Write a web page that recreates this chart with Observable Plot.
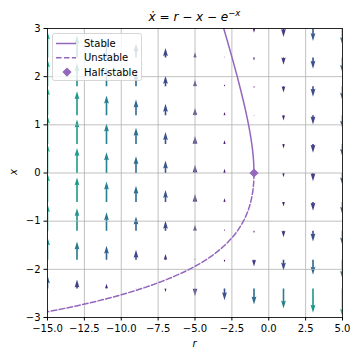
<!DOCTYPE html>
<html><head><meta charset="utf-8">
<script src="https://cdn.jsdelivr.net/npm/d3@7"></script>
<script src="https://cdn.jsdelivr.net/npm/@observablehq/plot@0.6"></script>
<style>body{margin:0;background:#fff;} svg{display:block;}</style>
</head><body><div id="chart"></div>
<script>
// ---- data ----
const rGrid = [-15, -13, -11, -9, -7, -5, -3, -1, 1, 3, 5];
const xGrid = [-3, -2.4, -1.8, -1.2, -0.6, 0, 0.6, 1.2, 1.8, 2.4, 3];
// flow speed xdot at each grid point, one row per r column (rows follow xGrid)
const xdotRm15 = [-2.09, 6.38, 10.75, 12.88, 13.78, 14.00, 13.85, 13.50, 13.03, 12.51, 11.95];
const xdotRm13 = [-4.09, 4.38, 8.75, 10.88, 11.78, 12.00, 11.85, 11.50, 11.03, 10.51, 9.95];
const xdotRm11 = [-6.09, 2.38, 6.75, 8.88, 9.78, 10.00, 9.85, 9.50, 9.03, 8.51, 7.95];
const xdotRm9  = [-8.09, 0.38, 4.75, 6.88, 7.78, 8.00, 7.85, 7.50, 7.03, 6.51, 5.95];
const xdotRm7  = [-10.09, -1.62, 2.75, 4.88, 5.78, 6.00, 5.85, 5.50, 5.03, 4.51, 3.95];
const xdotRm5  = [-12.09, -3.62, 0.75, 2.88, 3.78, 4.00, 3.85, 3.50, 3.03, 2.51, 1.95];
const xdotRm3  = [-14.09, -5.62, -1.25, 0.88, 1.78, 2.00, 1.85, 1.50, 1.03, 0.51, -0.05];
const xdotRm1  = [-16.09, -7.62, -3.25, -1.12, -0.22, 0.00, -0.15, -0.50, -0.97, -1.49, -2.05];
const xdotRp1  = [-18.09, -9.62, -5.25, -3.12, -2.22, -2.00, -2.15, -2.50, -2.97, -3.49, -4.05];
const xdotRp3  = [-20.09, -11.62, -7.25, -5.12, -4.22, -4.00, -4.15, -4.50, -4.97, -5.49, -6.05];
const xdotRp5  = [-22.09, -13.62, -9.25, -7.12, -6.22, -6.00, -6.15, -6.50, -6.97, -7.49, -8.05];
const xdotColumns = [xdotRm15, xdotRm13, xdotRm11, xdotRm9, xdotRm7, xdotRm5, xdotRm3, xdotRm1, xdotRp1, xdotRp3, xdotRp5];

const stableX = [0, 0.25, 0.5, 0.75, 1.0, 1.25, 1.5, 1.75, 2.0, 2.25, 2.5, 2.75, 3.0, 3.2];
const stableR = [-1.000, -1.029, -1.107, -1.222, -1.368, -1.537, -1.723, -1.924, -2.135, -2.355, -2.582, -2.814, -3.050, -3.241];
const unstableX = [0, -0.25, -0.5, -0.75, -1.0, -1.25, -1.5, -1.75, -2.0, -2.25, -2.5, -2.75, -3.0];
const unstableR = [-1.000, -1.034, -1.149, -1.367, -1.718, -2.240, -2.982, -4.005, -5.389, -7.238, -9.682, -12.893, -17.086];
const halfStableR = [-1];
const halfStableX = [0];

const xTicks = [-15, -12.5, -10, -7.5, -5, -2.5, 0, 2.5, 5];
const yTicks = [-3, -2, -1, 0, 1, 2, 3];
const legendLabels = ["Stable", "Unstable", "Half-stable"];
const purple = "#9467bd";

// ---- tables ----
const arrows = [];
rGrid.forEach((r, i) => xGrid.forEach((x, j) => arrows.push({r, x, v: xdotColumns[i][j]})));
const arrowsUp = arrows.filter(d => d.v > 0);
const arrowsDown = arrows.filter(d => d.v < 0);
const stable = stableX.map((x, i) => ({x, r: stableR[i]}));
const unstable = unstableX.map((x, i) => ({x, r: unstableR[i]}));
const half = halfStableR.map((r, i) => ({r, x: halfStableX[i]}));

const PX_PER_UNIT = 2.08; // quiver scale: pixels of arrow per unit of xdot

// matplotlib-like quiver arrow, tail at origin
function arrowSymbol(dir) {
  return {
    draw(ctx, size) {
      const L = Math.sqrt(size / Math.PI);
      const w = 1.6, hw = 0.5 * w, HW = 1.5 * w, HL = 5 * w, HAL = 4.5 * w, minsh = 5 * w;
      let pts;
      if (L < minsh) {
        const s = L / minsh;
        pts = [[0, hw * s], [(minsh - HAL) * s, hw * s], [(minsh - HL) * s, HW * s], [minsh * s, 0],
               [(minsh - HL) * s, -HW * s], [(minsh - HAL) * s, -hw * s], [0, -hw * s]];
      } else {
        pts = [[0, hw], [L - HAL, hw], [L - HL, HW], [L, 0], [L - HL, -HW], [L - HAL, -hw], [0, -hw]];
      }
      pts.forEach(([a, b], k) => k ? ctx.lineTo(b, dir * a) : ctx.moveTo(b, dir * a));
      ctx.closePath();
    }
  };
}
const diamond = {
  draw(ctx) { const h = 4.6; ctx.moveTo(0, -h); ctx.lineTo(h, 0); ctx.lineTo(0, h); ctx.lineTo(-h, 0); ctx.closePath(); }
};

const fmtX = d => d.toFixed(1).replace("-", "\u2212");
const fmtY = d => String(d).replace("-", "\u2212");

const plot = Plot.plot({
  width: 360, height: 360,
  marginTop: 28, marginLeft: 47, marginRight: 18, marginBottom: 43,
  x: {domain: [-15, 5]},
  y: {domain: [-3, 3]},
  r: {type: "identity"},
  color: {type: "linear", scheme: "viridis", domain: [0, 22.09]},
  style: {fontFamily: "DejaVu Sans", fontSize: "10px", color: "black", background: "white"},
  marks: [
    Plot.dot(arrowsUp, {x: "r", y: "x", r: d => Math.abs(d.v) * PX_PER_UNIT, fill: d => Math.abs(d.v), symbol: arrowSymbol(-1), clip: true}),
    Plot.dot(arrowsDown, {x: "r", y: "x", r: d => Math.abs(d.v) * PX_PER_UNIT, fill: d => Math.abs(d.v), symbol: arrowSymbol(1), clip: true}),
    Plot.gridX({ticks: xTicks, stroke: "#b0b0b0", strokeOpacity: 1, strokeWidth: 0.8}),
    Plot.gridY({ticks: yTicks, stroke: "#b0b0b0", strokeOpacity: 1, strokeWidth: 0.8}),
    Plot.line(stable, {x: "r", y: "x", stroke: purple, strokeWidth: 1.5, curve: "catmull-rom", clip: true}),
    Plot.line(unstable, {x: "r", y: "x", stroke: purple, strokeWidth: 1.5, strokeDasharray: "5.55,2.4", curve: "catmull-rom", clip: true}),
    Plot.dot(half, {x: "r", y: "x", symbol: diamond, fill: purple, r: 4.6}),
    Plot.frame({stroke: "black", strokeWidth: 0.8}),
    Plot.axisX({ticks: xTicks, tickFormat: fmtX, tickSize: 3.5, tickPadding: 3.5, label: null}),
    Plot.axisY({ticks: yTicks, tickFormat: fmtY, tickSize: 3.5, tickPadding: 3.5, label: null})
  ]
});
document.getElementById("chart").appendChild(plot);

const svg = d3.select(plot);
const font = "DejaVu Sans";
// title
const t = svg.append("text").attr("x", 194.5).attr("y", 21).attr("text-anchor", "middle")
  .style("font-family", font).style("font-size", "12px").attr("fill", "black");
t.append("tspan").style("font-style", "italic").text("\u1E8B");
t.append("tspan").text(" = ");
t.append("tspan").style("font-style", "italic").text("r");
t.append("tspan").text(" \u2212 ");
t.append("tspan").style("font-style", "italic").text("x");
t.append("tspan").text(" \u2212 ");
t.append("tspan").style("font-style", "italic").text("e");
t.append("tspan").attr("dy", -5).style("font-size", "8.5px").text("\u2212");
t.append("tspan").style("font-style", "italic").style("font-size", "8.5px").text("x");
// axis labels
svg.append("text").attr("x", 194.5).attr("y", 347).attr("text-anchor", "middle")
  .style("font-family", font).style("font-size", "10px").style("font-style", "italic").text("r");
svg.append("text").attr("transform", "translate(17,172) rotate(-90)").attr("text-anchor", "middle")
  .style("font-family", font).style("font-size", "10px").style("font-style", "italic").text("x");
// legend
const lg = svg.append("g");
lg.append("rect").attr("x", 52.5).attr("y", 33.5).attr("width", 89).attr("height", 47).attr("rx", 2)
  .attr("fill", "white").attr("fill-opacity", 0.8).attr("stroke", "#cccccc").attr("stroke-width", 0.8);
const rowY = [43.5, 57.8, 72.1];
lg.append("line").attr("x1", 56).attr("x2", 76).attr("y1", rowY[0]).attr("y2", rowY[0]).attr("stroke", purple).attr("stroke-width", 1.5);
lg.append("line").attr("x1", 56).attr("x2", 76).attr("y1", rowY[1]).attr("y2", rowY[1]).attr("stroke", purple).attr("stroke-width", 1.5).attr("stroke-dasharray", "5.55,2.4");
lg.append("path").attr("d", "M0,-4.6L4.6,0L0,4.6L-4.6,0Z").attr("transform", `translate(67,${rowY[2]})`).attr("fill", purple);
legendLabels.forEach((s, i) => lg.append("text").attr("x", 84).attr("y", rowY[i] + 3.6)
  .attr("text-anchor", "start")
  .style("font-family", font).style("font-size", "10px").attr("fill", "black").text(s));
</script></body></html>
